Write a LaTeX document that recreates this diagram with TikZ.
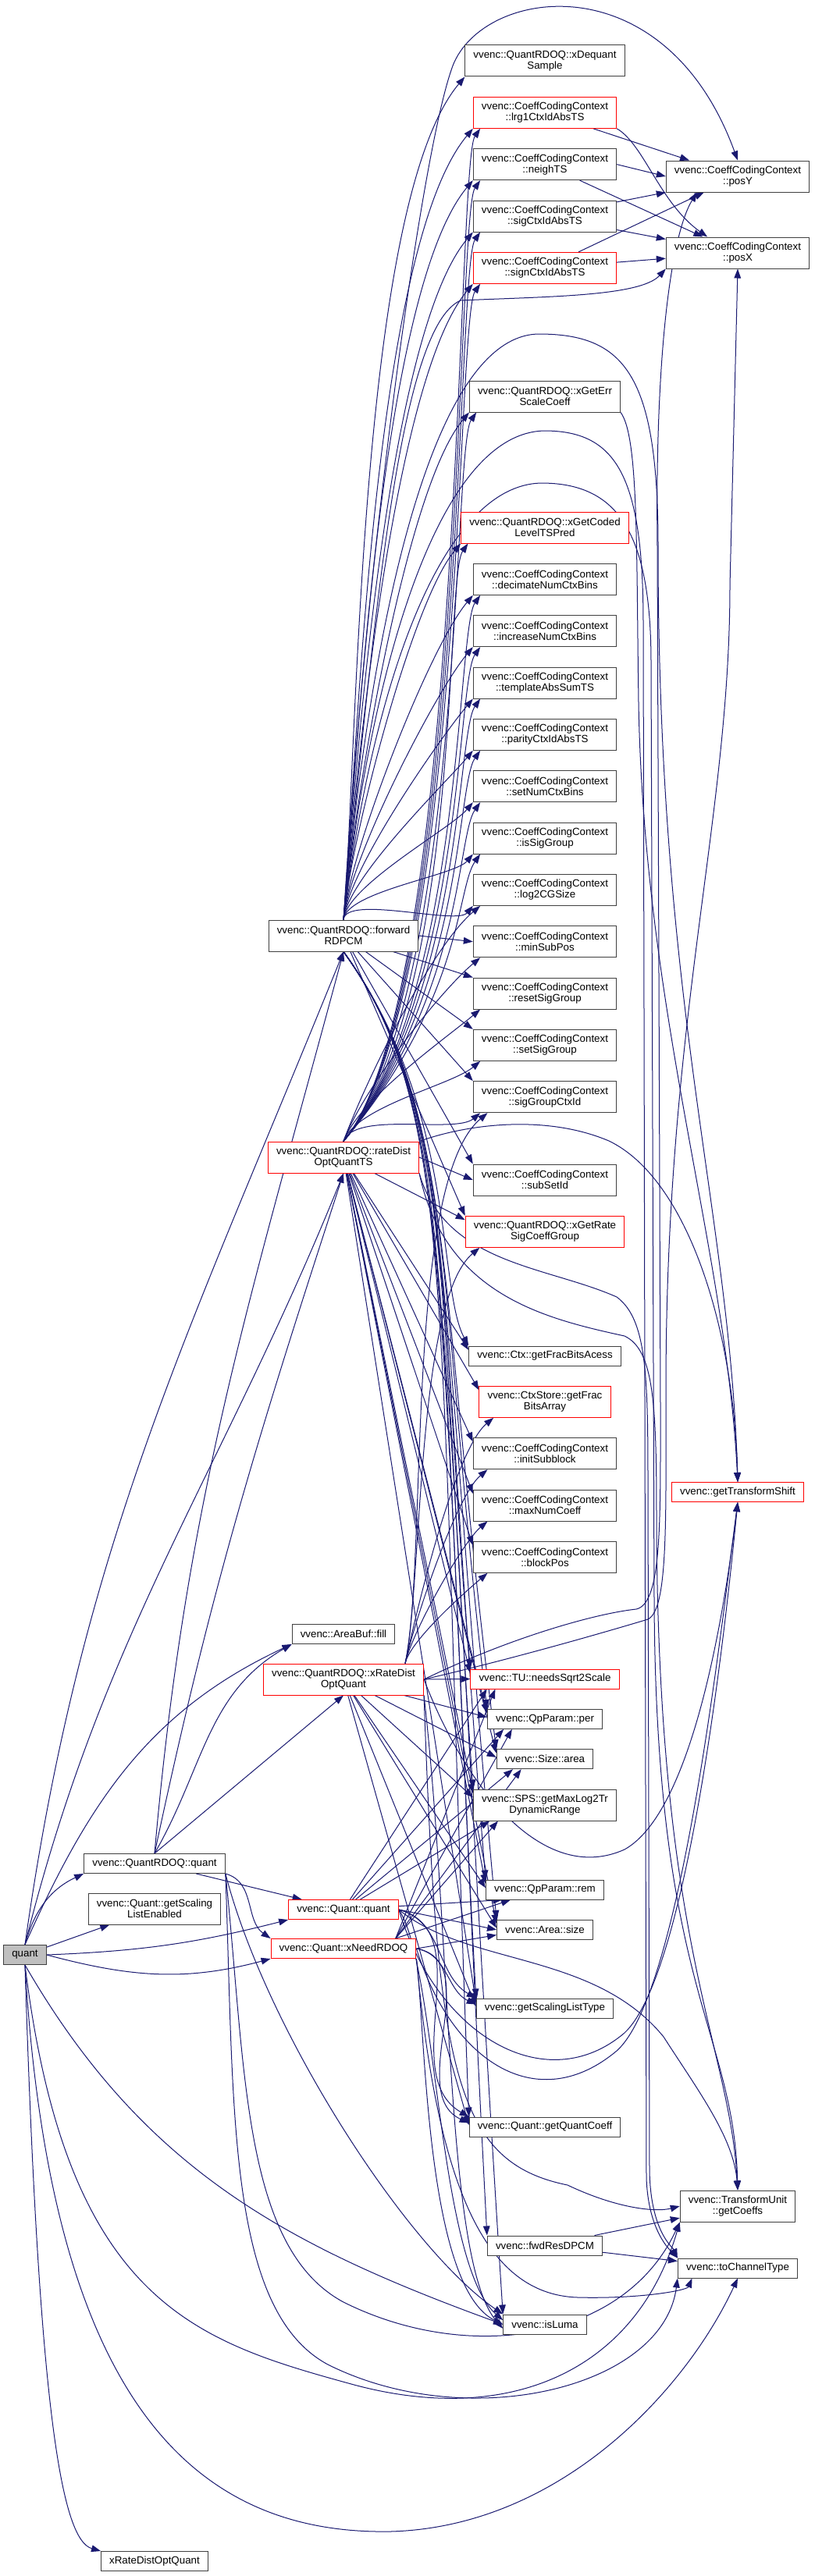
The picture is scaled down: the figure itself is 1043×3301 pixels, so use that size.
\documentclass[tikz,border=0pt]{standalone}
\usepackage{fontspec}
\setmainfont{Liberation Sans}
\usetikzlibrary{positioning,arrows.meta,backgrounds}
\usepackage{xcolor}
\definecolor{callblue}{HTML}{191970}
\definecolor{truncred}{HTML}{FF0000}
\definecolor{boxline}{HTML}{404040}
\definecolor{rootgray}{HTML}{BFBFBF}

\begin{document}
\begin{tikzpicture}[
        x=0.75pt, y=0.75pt,
        node distance=19pt,
        every node/.style={font=\fontsize{10}{10.5}\selectfont},
        fn/.style={draw=boxline, fill=white, line width=0.75pt, inner xsep=8pt, inner ysep=1pt, minimum height=18.75pt, align=center},
        fntwo/.style={fn, minimum height=30pt},
        trunc/.style={draw=truncred},
        rootfn/.style={fn, fill=rootgray},
        call/.style={-{Triangle[length=9pt,width=6.5pt]}, line width=0.75pt, callblue}
    ]
        \useasboundingbox (0,0) rectangle (1043,-3301);

        % Column 1: the function itself and its direct neighbours
        \node[rootfn] (quant) at (32,-2505) {quant};
        \node[fn] (qrdoq) at (198,-2388) {vvenc::QuantRDOQ::quant};
        \node[fntwo] (gsle) at (198,-2446) {vvenc::Quant::getScaling\\ListEnabled};
        \node[fn] (xrdoqb) at (198,-3282) {xRateDistOptQuant};

        % Column 2: quantizers
        \node[fntwo] (fwd) at (440,-1199) {vvenc::QuantRDOQ::forward\\RDPCM};
        \node[fntwo, trunc] (rdts) at (440,-1483) {vvenc::QuantRDOQ::rateDist\\OptQuantTS};
        \node[fn] (fill) at (440,-2094) {vvenc::AreaBuf::fill};
        \node[fntwo, trunc] (xrdoq) at (440,-2152) {vvenc::QuantRDOQ::xRateDist\\OptQuant};
        \node[fn, trunc] (qquant) at (440,-2447) {vvenc::Quant::quant};
        \node[fn, trunc] (xneed) at (440,-2497) {vvenc::Quant::xNeedRDOQ};

        % Column 3: helpers (stacked vertically)
        \node[fntwo] (xdeq) at (698,-78) {vvenc::QuantRDOQ::xDequant\\Sample};
        \node[fntwo, trunc, below=of xdeq] (lrg1) {vvenc::CoeffCodingContext\\::lrg1CtxIdAbsTS};
        \node[fntwo, below=of lrg1] (neigh) {vvenc::CoeffCodingContext\\::neighTS};
        \node[fntwo, below=of neigh] (sigctx) {vvenc::CoeffCodingContext\\::sigCtxIdAbsTS};
        \node[fntwo, trunc, below=of sigctx] (signctx) {vvenc::CoeffCodingContext\\::signCtxIdAbsTS};
        \node[fntwo] (xerr) at (698,-508) {vvenc::QuantRDOQ::xGetErr\\ScaleCoeff};
        \node[fntwo, trunc] (xcoded) at (698,-676) {vvenc::QuantRDOQ::xGetCoded\\LevelTSPred};
        \node[fntwo, below=of xcoded] (decim) {vvenc::CoeffCodingContext\\::decimateNumCtxBins};
        \node[fntwo, below=of decim] (incr) {vvenc::CoeffCodingContext\\::increaseNumCtxBins};
        \node[fntwo, below=of incr] (templ) {vvenc::CoeffCodingContext\\::templateAbsSumTS};
        \node[fntwo, below=of templ] (parity) {vvenc::CoeffCodingContext\\::parityCtxIdAbsTS};
        \node[fntwo, below=of parity] (setnum) {vvenc::CoeffCodingContext\\::setNumCtxBins};
        \node[fntwo, below=of setnum] (issig) {vvenc::CoeffCodingContext\\::isSigGroup};
        \node[fntwo, below=of issig] (log2cg) {vvenc::CoeffCodingContext\\::log2CGSize};
        \node[fntwo, below=of log2cg] (minsub) {vvenc::CoeffCodingContext\\::minSubPos};
        \node[fntwo, below=of minsub] (resetsig) {vvenc::CoeffCodingContext\\::resetSigGroup};
        \node[fntwo, below=of resetsig] (setsig) {vvenc::CoeffCodingContext\\::setSigGroup};
        \node[fntwo, below=of setsig] (sgctx) {vvenc::CoeffCodingContext\\::sigGroupCtxId};
        \node[fntwo] (subset) at (698,-1512) {vvenc::CoeffCodingContext\\::subSetId};
        \node[fntwo, trunc, below=of subset] (xgrate) {vvenc::QuantRDOQ::xGetRate\\SigCoeffGroup};
        \node[fn] (fracacc) at (698,-1737.5) {vvenc::Ctx::getFracBitsAcess};
        \node[fntwo, trunc, below=of fracacc] (fracarr) {vvenc::CtxStore::getFrac\\BitsArray};
        \node[fntwo, below=of fracarr] (initsub) {vvenc::CoeffCodingContext\\::initSubblock};
        \node[fntwo, below=of initsub] (maxnum) {vvenc::CoeffCodingContext\\::maxNumCoeff};
        \node[fntwo, below=of maxnum] (blockpos) {vvenc::CoeffCodingContext\\::blockPos};
        \node[fn, trunc] (sqrt2) at (698,-2151.5) {vvenc::TU::needsSqrt2Scale};
        \node[fn, below=of sqrt2] (per) {vvenc::QpParam::per};
        \node[fn, below=of per] (sarea) {vvenc::Size::area};
        \node[fntwo, below=of sarea] (maxlog) {vvenc::SPS::getMaxLog2Tr\\DynamicRange};
        \node[fn] (rem) at (698,-2421.5) {vvenc::QpParam::rem};
        \node[fn, below=of rem] (asize) {vvenc::Area::size};
        \node[fn] (sltype) at (698,-2573.5) {vvenc::getScalingListType};
        \node[fn] (qcoeff) at (698,-2725.5) {vvenc::Quant::getQuantCoeff};
        \node[fn] (fwdres) at (698,-2877.5) {vvenc::fwdResDPCM};
        \node[fn] (isluma) at (698,-2978.5) {vvenc::isLuma};

        % Column 4: leaves
        \node[fntwo] (posy) at (945,-226) {vvenc::CoeffCodingContext\\::posY};
        \node[fntwo] (posx) at (945,-324) {vvenc::CoeffCodingContext\\::posX};
        \node[fn, trunc] (tshift) at (945,-1912) {vvenc::getTransformShift};
        \node[fntwo] (coeffs) at (945,-2827) {vvenc::TransformUnit\\::getCoeffs};
        \node[fn] (toch) at (945,-2906.5) {vvenc::toChannelType};

        \begin{pgfonlayer}{background}
        % Calls from quant
        \draw[call] (quant.north) to[out=75,in=205] (qrdoq.south west);
        \draw[call] (quant) -- (gsle);
        \draw[call] (quant.east) to[bend right=6] (qquant.south west);
        \draw[call] (quant.east) to[out=-15,in=195] (xneed.south west);
        \draw[call] (quant.north) to[out=82,in=-112] (fwd.south);
        \draw[call] (quant.north) to[out=76,in=-112] (rdts.south);
        \draw[call] (quant.north) to[out=66,in=205] (fill.south west);
        \draw[call] (quant.south) .. controls (50,-3100) and (80,-3255) .. (xrdoqb.north west);
        \draw[call] (quant.south) to[out=-60,in=160] (isluma.west);
        \draw[call] (quant.south) .. controls (65,-3080) and (250,-3248) .. (500,-3244) .. controls (720,-3238) and (880,-3060) .. (toch.south);
        \draw[call] (quant.south) .. controls (85,-2950) and (250,-3000) .. (450,-3055) .. controls (650,-3110) and (815,-3040) .. (coeffs.south west);

        % Calls from QuantRDOQ::quant
        \draw[call] (qrdoq.north) to[out=85,in=-105] (fwd.south);
        \draw[call] (qrdoq.north) to[out=78,in=-108] (rdts.south);
        \draw[call] (qrdoq.north) to[out=60,in=210] (fill.south west);
        \draw[call] (qrdoq.north) -- (xrdoq.south);
        \draw[call] (qrdoq) -- (qquant);
        \draw[call] (qrdoq.south east) to[out=-15,in=145] (xneed.north west);
        \draw[call] (qrdoq.south east) .. controls (300,-2700) and (290,-2960) .. (420,-3030) .. controls (600,-3120) and (850,-3060) .. (toch.south west);
        \draw[call] (qrdoq.south east) .. controls (315,-2650) and (310,-2880) .. (440,-2950) .. controls (600,-3030) and (800,-3000) .. (coeffs.south west);
        \draw[call] (qrdoq.south east) .. controls (340,-2600) and (520,-2880) .. (isluma.north west);

        % Calls from forwardRDPCM
        \foreach \callee in {xdeq,lrg1,neigh,sigctx,signctx,xerr,xcoded,decim,incr,templ,parity,setnum,issig,log2cg}
            \draw[call] (fwd.north) to[out=85,in=-130,looseness=0.5] (\callee.south west);
        \draw[call] (fwd.east) -- (minsub.west);
        \foreach \callee in {resetsig,setsig,sgctx,subset,xgrate}
            \draw[call] (fwd) -- (\callee.north west);
        \foreach \callee in {fracacc,sqrt2,per,sarea,maxlog,rem,asize,sltype,qcoeff,fwdres,isluma}
            \draw[call] (fwd.south) .. controls (585,-1420) and (560,-1650) .. (\callee.north west);
        \draw[call] (fwd.north) .. controls (470,-700) and (540,-200) .. (578,-90) .. controls (610,15) and (850,55) .. (posy.north);
        \draw[call] (fwd.north) .. controls (480,-800) and (510,-420) .. (590,-385) .. controls (700,-380) and (820,-380) .. (posx.south west);
        \draw[call] (fwd.north) .. controls (480,-760) and (560,-430) .. (690,-428) .. controls (800,-428) and (843,-480) .. (843,-700) .. controls (843,-1300) and (935,-1550) .. (tshift.north);
        \draw[call] (fwd.north) .. controls (480,-820) and (570,-555) .. (697,-552) .. controls (790,-552) and (824,-610) .. (824,-800) -- (828,-2790) .. controls (830,-2860) and (860,-2885) .. (toch.north west);
        \draw[call] (fwd.north) .. controls (480,-860) and (570,-622) .. (693,-619) .. controls (790,-619) and (834,-680) .. (834,-850) -- (838,-2050) .. controls (840,-2550) and (940,-2600) .. (coeffs.north);

        % Calls from rateDistOptQuantTS
        \foreach \callee in {lrg1,neigh,sigctx,signctx,xerr,xcoded,decim,incr,templ,parity,setnum,issig}
            \draw[call] (rdts.north) to[out=50,in=-125,out distance=180pt,in distance=40pt] ([xshift=7pt]\callee.south west);
        \foreach \callee in {log2cg,minsub,resetsig,setsig,sgctx}
            \draw[call] (rdts.north) to[out=70,in=-140,looseness=0.6] ([xshift=7pt]\callee.south west);
        \draw[call] (rdts.east) -- (subset.west);
        \foreach \callee in {xgrate,fracacc,fracarr,initsub,maxnum,blockpos,sqrt2,per,sarea,maxlog,rem,asize,sltype}
            \draw[call] (rdts) -- ([yshift=-4pt]\callee.north west);
        \draw[call] (rdts.north east) .. controls (600,-1440) and (700,-1428) .. (780,-1462) .. controls (880,-1510) and (940,-1700) .. (tshift.north);
        \draw[call] (rdts.south east) .. controls (570,-1620) and (700,-1622) .. (790,-1662) .. controls (828,-1690) and (830,-1760) .. (830,-1900) -- (832,-2780) .. controls (833,-2860) and (862,-2880) .. (toch.north west);
        \draw[call] (rdts.south east) .. controls (570,-1660) and (700,-1690) .. (800,-1712) .. controls (838,-1730) and (841,-1800) .. (841,-1950) .. controls (843,-2500) and (935,-2620) .. (coeffs.north);

        % Calls from xRateDistOptQuant
        \foreach \callee in {sgctx,xgrate,fracarr,initsub,maxnum,blockpos}
            \draw[call] ([xshift=-18pt]xrdoq.north east) to[out=78,in=-140,looseness=0.5] ([xshift=14pt]\callee.south west);
        \draw[call] (xrdoq.east) -- (sqrt2.west);
        \foreach \callee in {per,sarea,maxlog,rem,asize,sltype,qcoeff}
            \draw[call] (xrdoq) -- ([yshift=-8pt]\callee.north west);
        \draw[call] (xrdoq.south east) .. controls (580,-2500) and (570,-2900) .. ([yshift=-4pt]isluma.west);
        \draw[call] (xrdoq.east) .. controls (600,-2300) and (700,-2415) .. (800,-2370) .. controls (890,-2320) and (930,-2050) .. (tshift.south);
        \draw[call] (xrdoq.east) .. controls (650,-2100) and (760,-2068) .. (815,-2062) .. controls (848,-2055) and (846,-1950) .. (846,-1800) -- (842,-700) .. controls (839,-450) and (860,-300) .. ([xshift=30pt]posy.south west);
        \draw[call] (xrdoq.east) .. controls (660,-2125) and (780,-2090) .. (830,-2075) .. controls (856,-2062) and (853,-1950) .. (853,-1780) .. controls (853,-1300) and (935,-1050) .. (935,-750) -- (posx.south);
        \draw[call] (xrdoq.south east) .. controls (560,-2650) and (580,-2770) .. (727,-2800) .. controls (790,-2830) and (840,-2835) .. (coeffs.west);

        % Calls from Quant::quant
        \foreach \callee in {sqrt2,per,sarea,maxlog,rem}
            \draw[call] (qquant) -- ([xshift=16pt]\callee.south west);
        \draw[call] (qquant.east) -- (asize.west);
        \foreach \callee in {sltype,qcoeff}
            \draw[call] (qquant.east) to[out=-15,in=150] (\callee.north west);
        \draw[call] (qquant.east) .. controls (560,-2520) and (560,-2900) .. ([yshift=4pt]isluma.west);
        \draw[call] (qquant.east) .. controls (600,-2520) and (760,-2500) .. (850,-2610) .. controls (895,-2680) and (940,-2740) .. (coeffs.north);
        \draw[call] (qquant.east) .. controls (560,-2610) and (700,-2690) .. (800,-2605) .. controls (880,-2530) and (928,-2100) .. (tshift.south);

        % Calls from Quant::xNeedRDOQ
        \foreach \callee in {sqrt2,per,sarea,maxlog,rem}
            \draw[call] ([xshift=-20pt]xneed.north east) -- ([xshift=24pt]\callee.south west);
        \draw[call] (xneed.east) -- ([yshift=-5pt]asize.west);
        \foreach \callee in {sltype,qcoeff}
            \draw[call] (xneed.east) to[out=-10,in=155] ([yshift=-6pt]\callee.north west);
        \draw[call] (xneed.south east) .. controls (545,-2600) and (545,-2930) .. (isluma.west);
        \draw[call] (xneed.east) .. controls (580,-2645) and (690,-2712) .. (790,-2628) .. controls (872,-2555) and (922,-2100) .. (tshift.south);
        \draw[call] (xneed.south east) .. controls (560,-2800) and (620,-2940) .. (740,-2944) .. controls (820,-2946) and (880,-2935) .. ([xshift=14pt]toch.south west);

        % Calls between helpers and leaves
        \draw[call] (lrg1) -- (posy);
        \draw[call] (lrg1.south east) .. controls (825,-185) and (845,-260) .. ([xshift=40pt]posx.north west);
        \draw[call] (neigh.east) -- (posy.west);
        \draw[call] (neigh) -- (posx);
        \draw[call] (sigctx) -- (posy.south west);
        \draw[call] (sigctx) -- (posx);
        \draw[call] (signctx) -- (posy);
        \draw[call] (signctx) -- (posx);
        \draw[call] (xerr.south east) .. controls (818,-560) and (815,-700) .. (818,-900) .. controls (825,-1300) and (930,-1600) .. (tshift.north);
        \draw[call] (fwdres) -- (coeffs);
        \draw[call] (fwdres) -- (toch);
        \end{pgfonlayer}

    \end{tikzpicture}
\end{document}
